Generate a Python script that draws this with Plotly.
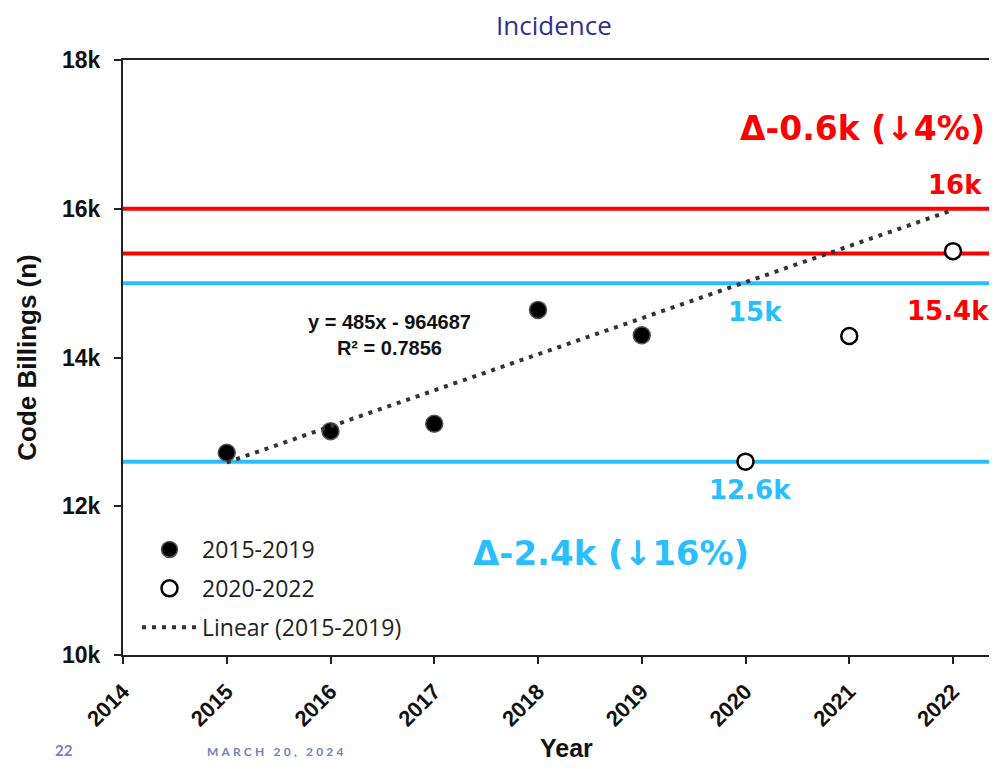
import plotly.graph_objects as go

# ---- data ----
years_pre = [2015, 2016, 2017, 2018, 2019]
billings_pre = [12720, 13010, 13110, 14640, 14300]
years_post = [2020, 2021, 2022]
billings_post = [12600, 14290, 15430]
trend_x = [2015, 2022]
trend_y = [12588, 15983]  # from y = 485x - 964687
red_levels = [16000, 15400]
blue_levels = [15000, 12600]
y_tickvals = [10000, 12000, 14000, 16000, 18000]
y_ticktext = ["10k", "12k", "14k", "16k", "18k"]
x_tickvals = list(range(2014, 2023))

RED = "#FF0000"
BLUE = "#29BFFF"
NAVY = "#2E3192"
FOOT = "#7080C0"

# The page body has an 8px margin: figure is sized so the page does not scroll.
OFF = 8
FIG_W, FIG_H = 981, 753
RMARG = 0
# plot area in screen pixels
L, R, T, B = 123, OFF + FIG_W - RMARG, 60, 655
PX_PER_YEAR = 103.75
def px(xp):
    return (xp - L) / (R - L)
def py(yp):
    return (B - yp) / (B - T)

fig = go.Figure()

for lv in red_levels:
    fig.add_hline(y=lv, line=dict(color=RED, width=4), layer="below")
for lv in blue_levels:
    fig.add_hline(y=lv, line=dict(color=BLUE, width=4), layer="below")

fig.add_trace(go.Scatter(
    x=years_pre, y=billings_pre, mode="markers", name="2015-2019", legendgroup="a",
    marker=dict(size=17, color="#000000", line=dict(color="#555555", width=1.5))))
fig.add_trace(go.Scatter(
    x=years_post, y=billings_post, mode="markers", name="2020-2022", legendgroup="b",
    marker=dict(size=16, color="#FFFFFF", line=dict(color="#000000", width=2.5))))
fig.add_trace(go.Scatter(
    x=trend_x, y=trend_y, mode="lines", name="Linear (2015-2019)", legendgroup="c",
    line=dict(color="#333333", width=4, dash="4px,6px")))

arial = "Arial, Liberation Sans, sans-serif"
wide = "Century Gothic, DejaVu Sans, sans-serif"

fig.update_layout(
    width=FIG_W, height=FIG_H,
    margin=dict(l=L - OFF, r=RMARG, t=T - OFF, b=FIG_H - (B - OFF)),
    paper_bgcolor="white", plot_bgcolor="white",
    showlegend=True,
    legend=dict(x=px(137), y=py(528), xanchor="left", yanchor="top", bgcolor="rgba(0,0,0,0)",
                font=dict(family="Open Sans, sans-serif", size=23, color="#222222"),
                itemwidth=55, tracegroupgap=6),
    xaxis=dict(range=[2014, 2014 + (R - L) / PX_PER_YEAR], tickvals=x_tickvals, tickangle=-45,
               automargin=False,
               showgrid=False, zeroline=False, showline=True, linecolor="#222222", linewidth=2,
               mirror=True,
               ticks="outside", ticklen=7, tickwidth=2, tickcolor="#222222", ticklabelstandoff=6,
               tickfont=dict(family=arial, size=22, color="#111111", weight="bold")),
    yaxis=dict(range=[10000, 18000], tickvals=y_tickvals, ticktext=y_ticktext, automargin=False,
               showgrid=False, zeroline=False, showline=True, linecolor="#222222", linewidth=2,
               mirror=False,
               ticks="outside", ticklen=7, tickwidth=2, tickcolor="#222222", ticklabelstandoff=9,
               tickfont=dict(family=arial, size=23, color="#111111", weight="bold"),
               title=dict(text="<b>Code Billings (n)</b>", standoff=18,
                          font=dict(family=arial, size=26, color="#111111"))),
)

# x axis title
fig.add_annotation(x=px(566), y=py(748), xref="paper", yref="paper", text="<b>Year</b>",
                   showarrow=False, xanchor="center", yanchor="middle",
                   font=dict(family=arial, size=25, color="#111111"))

# title
fig.add_annotation(x=px(554), y=py(25), xref="paper", yref="paper", text="Incidence",
                   showarrow=False, xanchor="center", yanchor="middle",
                   font=dict(family="Open Sans, sans-serif", size=26, color=NAVY))

annotations = [
    dict(x=px(987), y=py(128), text="<b>Δ-0.6k (↓4%)</b>", xanchor="right", color=RED, size=33),
    dict(x=px(955), y=py(185), text="<b>16k</b>", xanchor="center", color=RED, size=26),
    dict(x=px(948), y=py(311), text="<b>15.4k</b>", xanchor="center", color=RED, size=26),
    dict(x=px(755), y=py(312), text="<b>15k</b>", xanchor="center", color=BLUE, size=26),
    dict(x=px(750), y=py(490), text="<b>12.6k</b>", xanchor="center", color=BLUE, size=26),
    dict(x=px(611), y=py(553), text="<b>Δ-2.4k (↓16%)</b>", xanchor="center", color=BLUE, size=34),
]
for a in annotations:
    fig.add_annotation(x=a["x"], y=a["y"], xref="paper", yref="paper", text=a["text"], showarrow=False,
                       xanchor=a["xanchor"], yanchor="middle",
                       font=dict(family=wide, size=a["size"], color=a["color"]))

fig.add_annotation(x=2016.57, y=14300, xref="x", yref="y",
                   text="<b>y = 485x - 964687</b><br><b>R² = 0.7856</b>", showarrow=False,
                   align="center", font=dict(family=arial, size=20, color="#111111"))

# footer
fig.add_annotation(x=px(64), y=py(OFF + FIG_H), xref="paper", yref="paper",
                   text="<b>22</b>", showarrow=False, xanchor="center", yanchor="bottom",
                   font=dict(family="Lato, sans-serif", size=15, color=FOOT))
fig.add_annotation(x=px(277), y=py(OFF + FIG_H), xref="paper", yref="paper",
                   text="<b><span style='letter-spacing:3.2px'>MARCH 20, 2024</span></b>", showarrow=False,
                   xanchor="center", yanchor="bottom",
                   font=dict(family="Lato, sans-serif", size=12, color=FOOT))

fig.write_html("out.html")
